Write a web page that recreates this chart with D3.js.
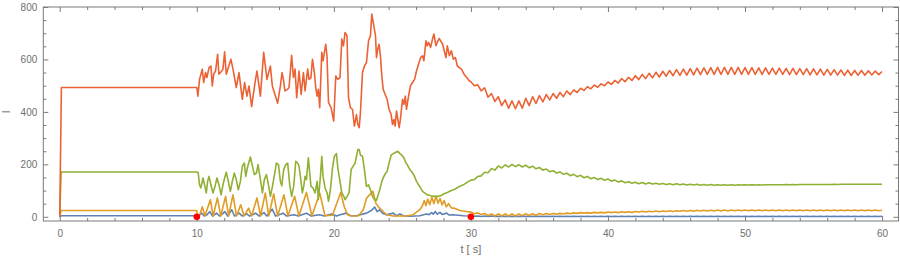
<!DOCTYPE html>
<html>
<head>
<meta charset="utf-8">
<script src="https://cdn.jsdelivr.net/npm/d3@7"></script>
<style>
body { margin: 0; background: #fff; }
</style>
</head>
<body>
<div id="chart"></div>
<script>
// ---- data ----
var xMajor = [0, 10, 20, 30, 40, 50, 60];
var yMajor = [0, 200, 400, 600, 800];
var xLabel = "t [ s]";
var yLabel = "I";
var markerTimes = [10, 30];

// before t = 30 : [t, value] pairs
var blueEarly = [[0,0],[0.1,4],[10,4],[10.1,2],[10.35,14],[10.55,3],[10.75,8],[10.95,20],[11.15,3],[11.45,14],[11.65,3],[11.85,10],[12.05,20],[12.25,3],[12.55,27],[12.75,3],[13.1,14],[13.3,3],[13.65,11],[13.85,3],[14.3,14],[14.55,3],[14.9,16],[15.1,3],[15.5,29],[15.75,3],[16.3,14],[16.55,3],[17.1,8],[17.4,3],[18,14],[18.35,3],[18.95,8],[19.3,3],[19.85,11],[20.2,3],[20.45,8],[20.92,14],[21.2,4],[21.65,4],[22.38,14],[22.74,24],[22.98,37],[23.16,20],[23.35,27],[23.55,14],[23.84,8],[24.33,14],[24.57,4],[24.82,11],[25.06,4],[25.55,2],[26.27,4],[26.76,11],[26.95,8],[27.13,16],[27.25,10],[27.4,20],[27.55,10],[27.74,17],[27.9,9],[28.23,14],[28.4,7],[28.72,8],[29.45,4]];

var orangeEarly = [[0,0],[0.1,24],[10,24],[10.05,3],[10.2,4],[10.4,38],[10.6,4],[10.99,65],[11.2,3],[11.5,72],[11.75,3],[12.1,78],[12.32,3],[12.64,84],[12.9,3],[13.2,46],[13.45,3],[13.78,33],[14,3],[14.39,72],[14.65,3],[15,91],[15.25,3],[15.61,88],[15.9,3],[16.36,84],[16.65,3],[17.14,78],[17.45,3],[18,93],[18.4,3],[18.97,91],[19.35,4],[19.9,6],[20.5,93],[20.75,40],[21,8],[21.3,3],[21.8,4],[22.15,27],[22.38,70],[22.5,78],[22.86,97],[23.06,52],[23.23,39],[23.47,27],[23.84,8],[24.33,3],[25.3,3],[25.79,8],[26.27,27],[26.45,40],[26.6,62],[26.72,42],[26.85,68],[27,46],[27.15,75],[27.3,50],[27.45,78],[27.6,52],[27.75,70],[27.9,45],[28.05,62],[28.2,38],[28.37,50],[28.57,34],[28.84,32],[29.2,24],[29.69,20]];

var greenEarly = [[0,0],[0.1,171],[10,171],[10.1,168],[10.2,122],[10.3,110],[10.45,148],[10.59,116],[10.69,91],[10.79,135],[10.89,154],[11.03,122],[11.18,91],[11.33,116],[11.47,148],[11.62,122],[11.77,84],[11.91,122],[12.06,154],[12.15,170],[12.3,135],[12.45,97],[12.59,135],[12.74,167],[12.88,142],[13.03,103],[13.18,135],[13.32,193],[13.47,205],[13.57,154],[13.72,193],[13.91,228],[14.06,193],[14.2,161],[14.35,167],[14.47,199],[14.64,142],[14.79,91],[14.93,142],[15.08,161],[15.23,122],[15.37,78],[15.52,116],[15.67,161],[15.81,205],[15.96,199],[16.1,135],[16.2,118],[16.34,180],[16.49,199],[16.63,205],[16.78,122],[16.92,78],[17.07,116],[17.22,212],[17.36,205],[17.46,193],[17.56,154],[17.7,91],[17.8,116],[17.9,154],[18,142],[18.14,225],[18.24,167],[18.33,116],[18.48,110],[18.63,91],[18.78,135],[18.87,65],[19.02,154],[19.12,231],[19.21,154],[19.36,110],[19.51,91],[19.61,59],[19.75,103],[19.9,186],[20.04,231],[20.19,241],[20.29,186],[20.43,142],[20.58,91],[20.73,78],[20.82,65],[20.97,78],[21.11,91],[21.26,180],[21.41,193],[21.55,205],[21.65,231],[21.75,256],[21.85,256],[21.94,235],[22.09,231],[22.23,180],[22.38,116],[22.53,122],[22.67,103],[22.82,78],[22.97,65],[23.1,62],[23.2,78],[23.35,103],[23.5,135],[23.65,154],[23.79,167],[23.89,173],[24.03,205],[24.18,235],[24.33,241],[24.52,246],[24.67,250],[24.82,241],[24.96,235],[25.11,225],[25.26,205],[25.35,199],[25.55,180],[25.74,167],[25.89,154],[26.03,135],[26.18,122],[26.33,110],[26.47,97],[26.62,91],[26.81,84],[27.06,80],[27.3,78],[27.54,78],[27.79,80],[28.04,88],[28.28,93],[28.57,100],[28.87,106],[29.16,116],[29.45,122],[29.75,132]];

var redEarly = [[0,0],[0.12,493],[10,493],[10.08,460],[10.2,524],[10.4,563],[10.5,512],[10.64,550],[10.74,531],[10.89,569],[11.03,575],[11.13,499],[11.23,544],[11.37,556],[11.52,620],[11.61,544],[11.76,552],[11.91,563],[12.03,629],[12.15,544],[12.49,601],[12.64,563],[12.88,493],[13.08,550],[13.32,448],[13.49,512],[13.66,460],[13.81,499],[14,420],[14.25,512],[14.39,556],[14.54,499],[14.64,460],[14.88,627],[15.12,524],[15.37,575],[15.51,499],[15.9,433],[16.1,499],[16.22,550],[16.32,524],[16.43,480],[16.63,486],[16.73,493],[16.92,616],[17.05,531],[17.17,563],[17.29,454],[17.46,556],[17.61,467],[17.78,550],[17.9,480],[18.09,563],[18.19,524],[18.33,531],[18.44,601],[18.58,550],[18.68,493],[18.78,460],[18.87,486],[18.97,416],[19.12,627],[19.21,595],[19.41,658],[19.5,614],[19.61,435],[19.8,416],[19.99,365],[20.14,537],[20.28,524],[20.45,531],[20.58,678],[20.7,652],[20.82,703],[20.96,690],[21.07,454],[21.21,416],[21.36,410],[21.5,346],[21.65,390],[21.75,352],[21.85,340],[21.94,397],[22.09,550],[22.23,575],[22.38,588],[22.53,671],[22.67,690],[22.77,773],[22.91,730],[23.04,690],[23.11,607],[23.2,639],[23.3,658],[23.4,614],[23.5,537],[23.6,486],[23.74,467],[23.89,448],[24.03,410],[24.18,390],[24.28,352],[24.38,371],[24.47,346],[24.57,403],[24.67,371],[24.77,340],[24.87,378],[25.01,448],[25.11,429],[25.21,460],[25.3,410],[25.45,460],[25.59,499],[25.74,512],[25.89,524],[26.03,556],[26.18,582],[26.33,607],[26.47,614],[26.57,595],[26.72,671],[26.81,652],[26.91,665],[27.06,646],[27.2,678],[27.3,697],[27.45,652],[27.54,665],[27.69,680],[27.79,671],[27.94,658],[28.08,627],[28.18,607],[28.28,652],[28.43,614],[28.57,633],[28.72,601],[28.87,607],[29.01,575],[29.16,569],[29.31,563],[29.5,544],[29.7,531],[29.89,518]];

// from t = 30 to 60, one value every 0.25 s
var tailStart = 30, tailStep = 0.25;
var blueTail = [3,2,3,1,3,1,3,1,2,1, 2,1,2,1,2,1,2,1,2,1, 2,1,2,1,2,1,2,1,2,1, 2,1,2,1,2,1,2,1,2,1, 2,1,2,1,2,1,2,1,2,1, 2,1,2,1,2,1,2,1,2,1, 2,1,2,1,2,1,2,1,2,1, 2,1,2,1,2,1,2,1,2,1, 2,1,2,1,2,1,2,1,2,1, 2,1,2,1,2,1,2,1,2,1, 2,1,2,1,2,1,2,1,2,1, 2,1,2,1,2,1,2,1,2,1, 2];
var orangeTail = [18,12,15,9,13,5,11,3,11,3, 11,3,11,3,11,4,12,5,12,6, 13,8,13,9,13,10,13,11,14,12, 15,13,16,14,16,14,17,15,17,15, 18,16,18,16,19,17,19,17,20,18, 21,18,21,19,22,19,22,20,23,20, 23,21,24,21,24,21,25,22,25,22, 25,22,26,22,26,22,26,23,26,23, 26,23,26,23,26,23,26,23,26,23, 26,23,26,23,26,23,26,23,26,23, 26,23,26,23,26,23,26,23,26,23, 26,23,26,23,26,23,26,23,26,23, 25];
var greenTail = [140,142,154,156,170,168,184,178,194,186, 198,190,200,191,199,190,197,187,193,183, 188,178,182,172,176,167,171,162,166,157, 162,153,158,149,154,145,150,142,147,139, 144,136,140,133,137,130,134,128,132,126, 131,125,130,125,128,124,127,123,126,122, 126,122,125,121,124,121,124,120,123,120, 123,120,122,120,122,120,122,120,122,121, 122,121,122,121,122,121,122,122,122,122, 122,122,123,122,123,122,123,123,123,123, 123,123,123,123,123,123,124,123,124,124, 124,124,124,124,124,124,124,124,124,124, 124];
var redTail = [515,500,503,480,492,456,470,440,458,424, 446,414,442,412,442,414,452,424,458,432, 462,438,466,446,470,452,474,458,480,466, 484,474,490,482,496,488,502,494,507,500, 514,505,520,510,527,515,532,520,538,523, 543,527,547,530,551,533,555,536,558,538, 561,539,563,540,565,541,567,542,568,543, 569,543,570,543,570,543,570,543,570,543, 569,543,569,543,568,543,568,543,567,543, 567,543,566,542,566,542,565,542,565,541, 564,541,563,540,562,540,561,540,560,539, 559,539,558,540,558,540,557,541,556,542, 554];

var seriesColors = ["#5E81B5", "#E19C24", "#8FB032", "#EB6235"];

function joinTail(early, tail) {
    return early.concat(tail.map(function (v, i) { return [tailStart + i * tailStep, v]; }));
}
var allSeries = [
    joinTail(blueEarly, blueTail),
    joinTail(orangeEarly, orangeTail),
    joinTail(greenEarly, greenTail),
    joinTail(redEarly, redTail)
];

// ---- chart ----
var width = 900, height = 259;
var frameL = 43.3, frameR = 898.5, frameT = 7, frameB = 221;

var svg = d3.select("#chart").append("svg")
    .attr("width", width)
    .attr("height", height)
    .style("font-family", "'Liberation Sans', Arial, sans-serif");

var x = d3.scaleLinear().domain([-1.2, 61.2]).range([frameL, frameR]);
var y = d3.scaleLinear().domain([-16, 800]).range([frameB, frameT]);

var xMinor = d3.range(0, 61, 2).filter(function (d) { return d % 10 !== 0; });
var yMinor = d3.range(50, 800, 50).filter(function (d) { return d % 200 !== 0; });

var frameColor = "#7a7a7a", labelColor = "#6e6e6e";

svg.append("defs").append("clipPath").attr("id", "plotClip")
    .append("rect")
    .attr("x", frameL).attr("y", frameT)
    .attr("width", frameR - frameL).attr("height", frameB - frameT);

// curves
var line = d3.line()
    .x(function (d) { return x(d[0]); })
    .y(function (d) { return y(d[1]); });

svg.append("g")
    .attr("clip-path", "url(#plotClip)")
    .selectAll("path")
    .data(allSeries)
    .join("path")
    .attr("d", line)
    .attr("fill", "none")
    .attr("stroke", function (d, i) { return seriesColors[i]; })
    .attr("stroke-width", 1.6)
    .attr("stroke-linejoin", "round");

// axes (ticks pointing into the frame)
function styleAxis(g) {
    g.select(".domain").remove();
    g.selectAll(".tick line").attr("stroke", frameColor);
    g.selectAll(".tick text").attr("fill", labelColor).style("font-size", "10px");
}

svg.append("g").attr("transform", "translate(0," + frameB + ")")
    .call(d3.axisBottom(x).tickValues(xMajor).tickSize(-5).tickPadding(9))
    .call(styleAxis);
svg.append("g").attr("transform", "translate(0," + frameB + ")")
    .call(d3.axisBottom(x).tickValues(xMinor).tickSize(-3).tickFormat(""))
    .call(styleAxis);
svg.append("g").attr("transform", "translate(0," + frameT + ")")
    .call(d3.axisTop(x).tickValues(xMajor).tickSize(-5).tickFormat(""))
    .call(styleAxis);
svg.append("g").attr("transform", "translate(0," + frameT + ")")
    .call(d3.axisTop(x).tickValues(xMinor).tickSize(-3).tickFormat(""))
    .call(styleAxis);

svg.append("g").attr("transform", "translate(" + frameL + ",0)")
    .call(d3.axisLeft(y).tickValues(yMajor).tickSize(-5).tickPadding(6))
    .call(styleAxis);
svg.append("g").attr("transform", "translate(" + frameL + ",0)")
    .call(d3.axisLeft(y).tickValues(yMinor).tickSize(-3).tickFormat(""))
    .call(styleAxis);
svg.append("g").attr("transform", "translate(" + frameR + ",0)")
    .call(d3.axisRight(y).tickValues(yMajor).tickSize(-5).tickFormat(""))
    .call(styleAxis);
svg.append("g").attr("transform", "translate(" + frameR + ",0)")
    .call(d3.axisRight(y).tickValues(yMinor).tickSize(-3).tickFormat(""))
    .call(styleAxis);

// frame
svg.append("rect")
    .attr("x", frameL).attr("y", frameT)
    .attr("width", frameR - frameL).attr("height", frameB - frameT)
    .attr("fill", "none")
    .attr("stroke", frameColor)
    .attr("stroke-width", 1);

// red markers
svg.append("g")
    .selectAll("circle")
    .data(markerTimes)
    .join("circle")
    .attr("cx", function (d) { return x(d); })
    .attr("cy", y(0))
    .attr("r", 3.3)
    .attr("fill", "#ff0000");

// axis labels
svg.append("text")
    .attr("x", (frameL + frameR) / 2)
    .attr("y", 253)
    .attr("text-anchor", "middle")
    .attr("fill", labelColor)
    .style("font-size", "11px")
    .text(xLabel);

svg.append("text")
    .attr("transform", "translate(10," + y(400) + ") rotate(-90)")
    .attr("text-anchor", "middle")
    .attr("fill", labelColor)
    .style("font-size", "10px")
    .text(yLabel);
</script>
</body>
</html>
